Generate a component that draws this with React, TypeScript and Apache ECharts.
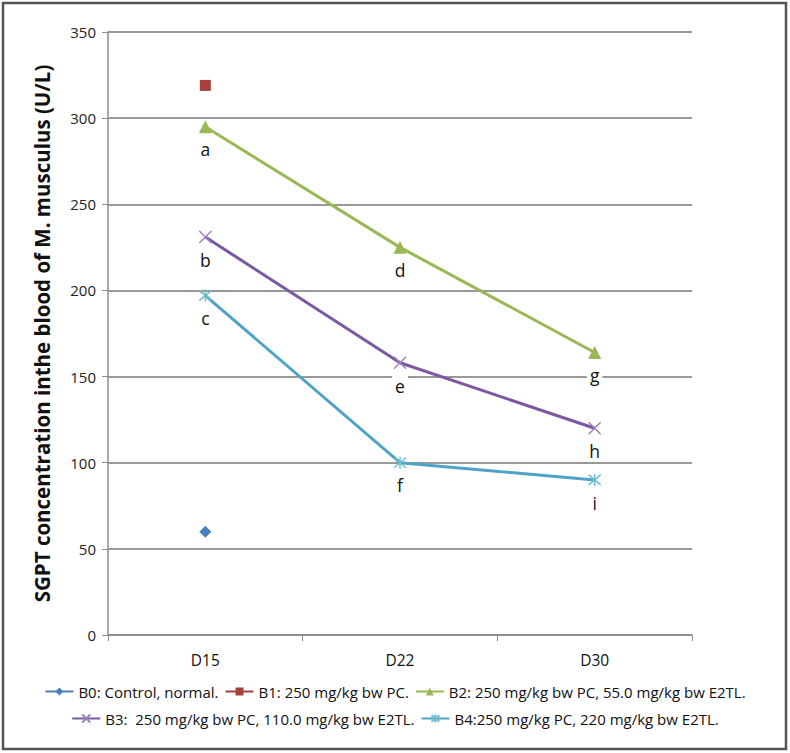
import React, { useEffect, useRef } from "react";
import * as echarts from "echarts";

const categories = ["D15", "D22", "D30"];
const b0Values = [60, null, null];
const b1Values = [319, null, null];
const b2Values = [295, 225, 164];
const b3Values = [231, 158, 120];
const b4Values = [197, 100, 90];
const b2Letters = ["a", "d", "g"];
const b3Letters = ["b", "e", "h"];
const b4Letters = ["c", "f", "i"];
const seriesNames = [
  "B0: Control, normal.",
  "B1: 250 mg/kg bw PC.",
  "B2: 250 mg/kg bw PC, 55.0 mg/kg bw E2TL.",
  "B3:  250 mg/kg bw PC, 110.0 mg/kg bw E2TL.",
  "B4:250 mg/kg PC, 220 mg/kg bw E2TL.",
];
const yTitle = "SGPT concentration inthe blood of M. musculus (U/L)";

const FONT = "Open Sans";
const X_SYMBOL = "path://M0,0L10,10M10,0L0,10";
const STAR_SYMBOL = "path://M0,0L10,10M10,0L0,10M5,-1L5,11";

export default function App() {
  const ref = useRef<HTMLDivElement>(null);
  useEffect(() => {
    const chart = echarts.init(ref.current!, null, { renderer: "svg" });
    const letterLabel = (letters: string[]) => ({
      show: true,
      position: "bottom",
      distance: 6,
      formatter: (p: any) => letters[p.dataIndex],
      fontSize: 17.5,
      fontFamily: FONT,
      color: "#111",
      backgroundColor: "#fff",
      padding: [1, 3],
    });
    const legendText = { fontSize: 15, fontFamily: FONT, color: "#111" };
    chart.setOption({
      animation: false,
      backgroundColor: "#fff",
      graphic: [
        {
          type: "rect",
          shape: { x: 3, y: 3, width: 783, height: 746 },
          style: { fill: "none", stroke: "#555", lineWidth: 2.5 },
          silent: true,
        },
      ],
      grid: { left: 108, right: 98, top: 32, bottom: 118 },
      legend: [
        {
          data: seriesNames.slice(0, 3),
          top: 679,
          left: "center",
          itemGap: 6,
          itemWidth: 28,
          itemHeight: 10,
          textStyle: legendText,
        },
        {
          data: seriesNames.slice(3),
          top: 706,
          left: "center",
          itemGap: 6,
          itemWidth: 28,
          itemHeight: 10,
          textStyle: legendText,
        },
      ],
      xAxis: {
        type: "category",
        data: categories,
        boundaryGap: true,
        axisLine: { lineStyle: { color: "#8c8c8c", width: 1.5 } },
        axisTick: { show: true, length: 6, lineStyle: { color: "#8c8c8c" } },
        axisLabel: { fontSize: 15.5, fontFamily: FONT, color: "#111", margin: 17 },
      },
      yAxis: {
        type: "value",
        min: 0,
        max: 350,
        interval: 50,
        name: yTitle,
        nameLocation: "middle",
        nameGap: 56,
        nameTextStyle: { fontSize: 20.5, fontWeight: "bold", fontFamily: FONT, color: "#111" },
        axisLine: { show: true, lineStyle: { color: "#8c8c8c", width: 1.5 } },
        axisTick: { show: true, length: 6, lineStyle: { color: "#8c8c8c" } },
        axisLabel: { fontSize: 15, fontFamily: FONT, color: "#222", margin: 12 },
        splitLine: { lineStyle: { color: "#999", width: 2 } },
      },
      series: [
        {
          name: seriesNames[0],
          type: "line",
          data: b0Values,
          symbol: "diamond",
          symbolSize: 12,
          itemStyle: { color: "#4a7ebb" },
          lineStyle: { color: "#4a7ebb", width: 3 },
        },
        {
          name: seriesNames[1],
          type: "line",
          data: b1Values,
          symbol: "rect",
          symbolSize: 11,
          itemStyle: { color: "#a8403d" },
          lineStyle: { color: "#a8403d", width: 3 },
        },
        {
          name: seriesNames[2],
          type: "line",
          data: b2Values,
          symbol: "triangle",
          symbolSize: 13,
          itemStyle: { color: "#98b954" },
          lineStyle: { color: "#98b954", width: 3 },
          label: letterLabel(b2Letters),
        },
        {
          name: seriesNames[3],
          type: "line",
          data: b3Values,
          symbol: X_SYMBOL,
          symbolSize: 12,
          itemStyle: { color: "#7a58a3", borderColor: "#9a84bb", borderWidth: 1.5 },
          lineStyle: { color: "#7a58a3", width: 3 },
          label: letterLabel(b3Letters),
        },
        {
          name: seriesNames[4],
          type: "line",
          data: b4Values,
          symbol: STAR_SYMBOL,
          symbolSize: 12,
          itemStyle: { color: "#4ea3c6", borderColor: "#6ebdd4", borderWidth: 1.5 },
          lineStyle: { color: "#4ea3c6", width: 3 },
          label: letterLabel(b4Letters),
        },
      ],
    });
    return () => chart.dispose();
  }, []);
  return <div ref={ref} style={{ width: 790, height: 753, position: "absolute", left: 0, top: 0 }} />;
}
